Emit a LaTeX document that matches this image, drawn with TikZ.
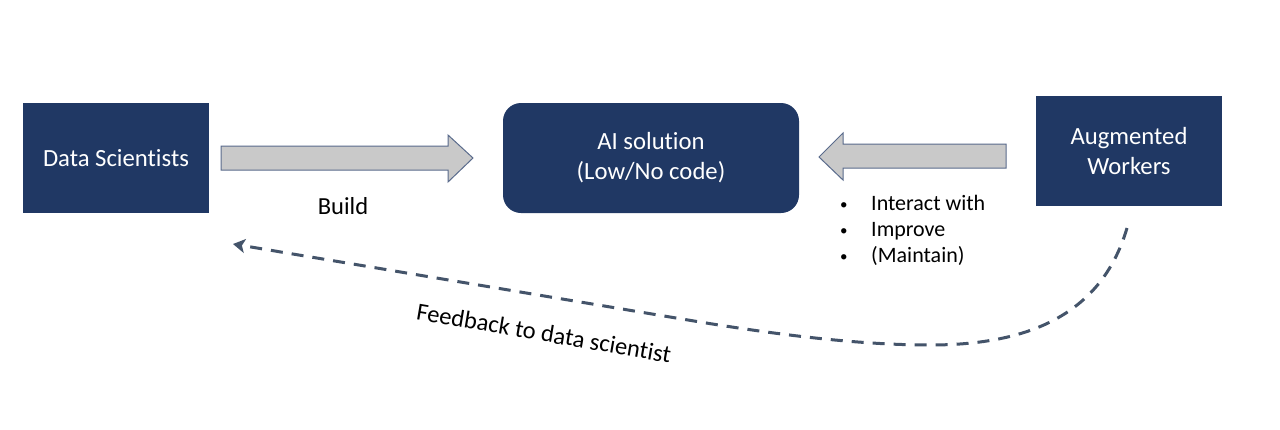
\documentclass[tikz,border=0pt]{standalone}
\usepackage{fontspec}
\setmainfont[Ligatures={NoCommon}]{Carlito}
\usetikzlibrary{arrows.meta}
\definecolor{navy}{HTML}{203864}
\definecolor{arrowfill}{HTML}{C9C9C9}
\definecolor{arrowline}{HTML}{5A6B8C}
\definecolor{dashcol}{HTML}{44546A}
\newcommand{\mybul}{\makebox[33pt][l]{\hspace{2pt}\raisebox{1pt}{\fontsize{15}{15}\selectfont\textbullet}}}
\begin{document}
\begin{tikzpicture}[x=1pt,y=-1pt,
  boxstyle/.style={fill=navy, text=white, inner sep=0pt, minimum width=186pt, minimum height=110pt, align=center, font=\fontsize{24.7}{30}\selectfont},
  blockarrow/.style={fill=arrowfill, draw=arrowline, line width=1pt, line join=miter},
  smalltext/.style={font=\fontsize{22}{26}\selectfont, inner sep=0pt},
  labeltext/.style={font=\fontsize{24.5}{28}\selectfont, inner sep=0pt},
  feedback/.style={draw=dashcol, line width=3pt, dash pattern=on 12pt off 9pt, -{Stealth[length=12pt,width=14pt,inset=3pt]}}
]
\useasboundingbox (0,0) rectangle (1280,429);
\fill[white] (0,0) rectangle (1280,429);

\node[boxstyle] (ds) at (116,158) {Data Scientists};
\node[boxstyle, minimum width=296pt, rounded corners=18pt] (ai) at (651,158) {AI solution\\(Low/No code)};
\node[boxstyle] (aw) at (1129,151) {Augmented\\Workers};

% block arrow: Data Scientists -> AI solution
\draw[blockarrow] (221,146) -- (448,146) -- (448,135) -- (473,158) -- (448,182) -- (448,170) -- (221,170) -- cycle;
% block arrow: Augmented Workers -> AI solution
\draw[blockarrow] (1006,144) -- (843,144) -- (843,133) -- (819,157) -- (843,180) -- (843,168) -- (1006,168) -- cycle;

\node[labeltext] (build) at (343,206) {Build};
\node[smalltext, anchor=west, align=left] (acts) at (838,230)
  {\mybul Interact with\\
   \mybul Improve\\
   \mybul (Maintain)};

\coordinate (fbstart) at (1127,228);
\coordinate (fbend) at (233,244);
\draw[feedback] (fbstart) .. controls (1100,320) and (1020,345) .. (930,345)
  .. controls (860,345) and (780,335) .. (700,322) -- (fbend);
\node[labeltext, rotate=-9.7] (fblabel) at (544,333) {Feedback to data scientist};
\end{tikzpicture}
\end{document}
